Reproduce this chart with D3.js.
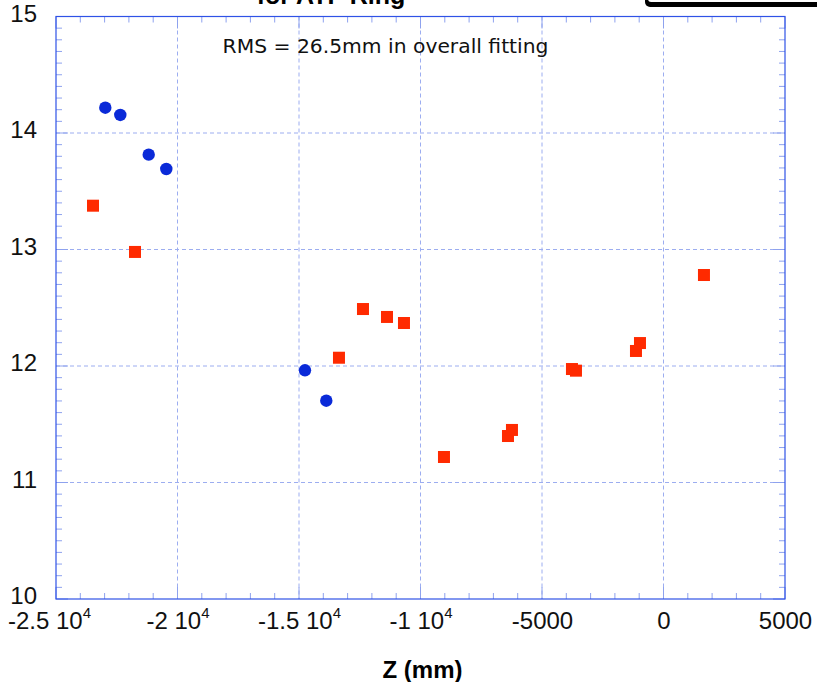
<!DOCTYPE html>
<html><head><meta charset="utf-8">
<script src="https://cdn.jsdelivr.net/npm/d3@7/dist/d3.min.js"></script>
<style>body{margin:0;background:#fff;overflow:hidden}</style>
</head><body>
<svg id="c" width="817" height="682"></svg>
<script>
// ---- data ----
const blueZ = [-22971, -22354, -21185, -20461, -14754, -13877];
const blueR = [14.217, 14.155, 13.814, 13.691, 11.963, 11.702];
const redZ = [-23477, -21749, -13355, -12367, -11379, -10680, -9034, -6400, -6236, -3767, -3602, -1133, -968, 1665];
const redR = [13.376, 12.979, 12.071, 12.489, 12.421, 12.369, 11.219, 11.399, 11.451, 11.974, 11.960, 12.129, 12.197, 12.781];
const xTickValues = [-25000, -20000, -15000, -10000, -5000, 0, 5000];
const xTickBase = ["-2.5 10", "-2 10", "-1.5 10", "-1 10", "-5000", "0", "5000"];
const xTickExp = ["4", "4", "4", "4", "", "", ""];
const yTickValues = [10, 11, 12, 13, 14, 15];
const yTickLabels = ["10", "11", "12", "13", "14", "15"];
const titleText = "for ATF Ring";
const noteText = "RMS = 26.5mm in overall fitting";
const xLabelText = "Z (mm)";

// ---- layout ----
const svg = d3.select("#c");
const L = 56, R = 785, T = 16.5, B = 599;
const x = d3.scaleLinear().domain([-25000, 5000]).range([L, R]);
const y = d3.scaleLinear().domain([10, 15]).range([B, T]);
const frameCol = "#2f52e6", gridCol = "#9cadf0", minorCol = "#8ea2ee";

// gridlines
const gx = xTickValues.slice(1, -1), gy = yTickValues.slice(1, -1);
svg.append("g").selectAll("line").data(gx).join("line")
  .attr("x1", d => x(d)).attr("x2", d => x(d)).attr("y1", T).attr("y2", B)
  .attr("stroke", gridCol).attr("stroke-width", 1).attr("stroke-dasharray", "4,3");
svg.append("g").selectAll("line").data(gy).join("line")
  .attr("y1", d => y(d)).attr("y2", d => y(d)).attr("x1", L).attr("x2", R)
  .attr("stroke", gridCol).attr("stroke-width", 1).attr("stroke-dasharray", "4,3");

// minor ticks
const yMinor = d3.range(100, 151).map(v => v / 10);
const xMinor = d3.range(-25, 6).map(v => v * 1000);
const tk = svg.append("g").attr("stroke", minorCol).attr("stroke-width", 1);
yMinor.forEach(v => {
  const len = (Math.abs(v - Math.round(v)) < 1e-6) ? 12 : 6;
  tk.append("line").attr("x1", L).attr("x2", L + len).attr("y1", y(v)).attr("y2", y(v));
  tk.append("line").attr("x1", R).attr("x2", R - len).attr("y1", y(v)).attr("y2", y(v));
});
xMinor.forEach(v => {
  const len = (v % 5000 === 0) ? 12 : 6;
  tk.append("line").attr("y1", B).attr("y2", B - len).attr("x1", x(v)).attr("x2", x(v));
  tk.append("line").attr("y1", T).attr("y2", T + len).attr("x1", x(v)).attr("x2", x(v));
});

// frame
svg.append("rect").attr("x", L).attr("y", T).attr("width", R - L).attr("height", B - T)
  .attr("fill", "none").attr("stroke", frameCol).attr("stroke-width", 1.2);

// axes labels
const yAx = svg.append("g").attr("transform", `translate(${L},0)`)
  .call(d3.axisLeft(y).tickValues(yTickValues).tickSize(0).tickPadding(19)
    .tickFormat((d, i) => yTickLabels[i]));
yAx.select(".domain").remove();
yAx.selectAll("text").attr("font-family", "Liberation Sans, Arial, sans-serif")
  .attr("font-size", 24).attr("fill", "#111").attr("dy", "0.2em");

const xAx = svg.append("g").attr("transform", `translate(0,${B})`)
  .call(d3.axisBottom(x).tickValues(xTickValues).tickSize(0).tickPadding(13)
    .tickFormat((d, i) => xTickBase[i]));
xAx.select(".domain").remove();
xAx.selectAll("text").each(function (d, i) {
  const t = d3.select(this);
  t.attr("font-family", "Liberation Sans, Arial, sans-serif").attr("font-size", 24).attr("fill", "#111");
  if (xTickExp[i]) {
    t.text(null);
    t.append("tspan").text(xTickBase[i]);
    t.append("tspan").text(xTickExp[i]).attr("font-size", 15).attr("dy", "-0.75em");
    if (i === 0) t.attr("x", -7);
  }
});

// markers
svg.append("g").selectAll("rect").data(redZ).join("rect")
  .attr("x", (d) => x(d) - 6).attr("y", (d, i) => y(redR[i]) - 6)
  .attr("width", 12).attr("height", 12).attr("fill", "#ff2a00");
svg.append("g").selectAll("circle").data(blueZ).join("circle")
  .attr("cx", d => x(d)).attr("cy", (d, i) => y(blueR[i])).attr("r", 6.2)
  .attr("fill", "#0a2ad8");

// annotation
svg.append("text").attr("x", 385.5).attr("y", 53).attr("text-anchor", "middle")
  .attr("font-family", "DejaVu Sans, sans-serif").attr("font-size", 20.3).attr("fill", "#111")
  .text(noteText);

// title (clipped at top, as in the reference)
svg.append("text").attr("x", 331).attr("y", 3.5).attr("text-anchor", "middle")
  .attr("font-family", "Liberation Sans, Arial, sans-serif").attr("font-weight", "bold")
  .attr("font-size", 25).attr("fill", "#000").text(titleText);

// top-right box remnant
svg.append("rect").attr("x", 645).attr("y", -40).attr("width", 200).attr("height", 47)
  .attr("rx", 5).attr("fill", "#000");
svg.append("rect").attr("x", 648).attr("y", -40).attr("width", 200).attr("height", 42)
  .attr("rx", 3).attr("fill", "#fff");

// x label
svg.append("text").attr("x", (L + R) / 2 + 2).attr("y", 678).attr("text-anchor", "middle")
  .attr("font-family", "Liberation Sans, Arial, sans-serif").attr("font-weight", "bold")
  .attr("font-size", 24).attr("fill", "#000").text(xLabelText);
</script>
</body></html>
